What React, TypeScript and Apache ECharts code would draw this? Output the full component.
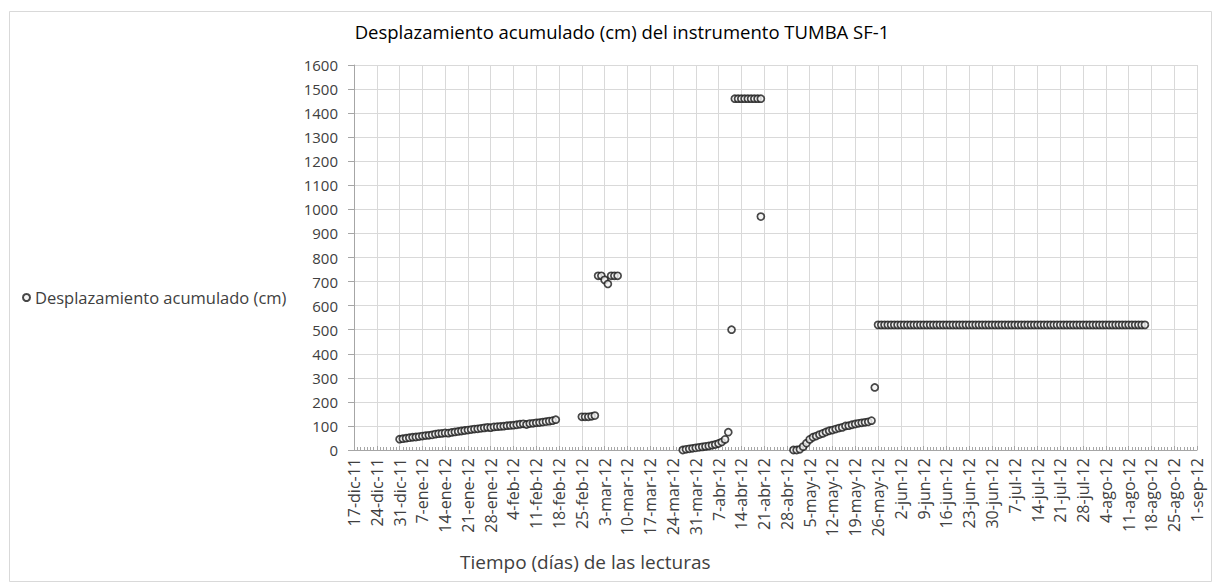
import React, { useEffect, useRef } from "react";
import * as echarts from "echarts";

// ---- Data (daily readings, each group starts at the given date) ----
const AXIS_START = "2011-12-17";
const AXIS_END = "2012-09-01";
const MONTHS_ES = ["ene", "feb", "mar", "abr", "may", "jun", "jul", "ago", "sep", "oct", "nov", "dic"];

const group1Start = "2011-12-31";
const group1Values = [45, 47, 49, 51, 53, 54, 56, 58, 60, 61, 63, 66, 68, 69, 71, 70, 73, 75, 77, 79, 81, 83, 85, 87, 88, 90, 92, 94, 93, 96, 97, 98, 99, 101, 102, 103, 105, 107, 109, 106, 110, 111, 113, 114, 116, 118, 120, 122, 126];

const group2Start = "2012-02-25";
const group2Values = [138, 138, 138, 140, 143];

const group3Start = "2012-03-01";
const group3Values = [724, 724, 707, 690, 724, 724, 724];

const group4Start = "2012-03-27";
const group4Values = [0, 3, 5, 7, 9, 11, 13, 15, 17, 20, 23, 27, 33, 44, 74];

const group5Start = "2012-04-11";
const group5Values = [500];

const group6Start = "2012-04-12";
const group6Values = [1460, 1460, 1460, 1460, 1460, 1460, 1460, 1460, 1460];

const group7Start = "2012-04-20";
const group7Values = [970];

const group8Start = "2012-04-30";
const group8Values = [0, 0, 3, 14, 28, 44, 53, 58, 64, 69, 75, 80, 83, 87, 91, 94, 100, 101, 105, 108, 111, 113, 115, 117, 122];

const group9Start = "2012-05-25";
const group9Values = [260];

const group10Start = "2012-05-26";
const group10Values = [
  520, 520, 520, 520, 520, 520, 520, 520, 520, 520,
  520, 520, 520, 520, 520, 520, 520, 520, 520, 520,
  520, 520, 520, 520, 520, 520, 520, 520, 520, 520,
  520, 520, 520, 520, 520, 520, 520, 520, 520, 520,
  520, 520, 520, 520, 520, 520, 520, 520, 520, 520,
  520, 520, 520, 520, 520, 520, 520, 520, 520, 520,
  520, 520, 520, 520, 520, 520, 520, 520, 520, 520,
  520, 520, 520, 520, 520, 520, 520, 520, 520, 520,
  520, 520, 520,
];

const groups: [string, number[]][] = [
  [group1Start, group1Values],
  [group2Start, group2Values],
  [group3Start, group3Values],
  [group4Start, group4Values],
  [group5Start, group5Values],
  [group6Start, group6Values],
  [group7Start, group7Values],
  [group8Start, group8Values],
  [group9Start, group9Values],
  [group10Start, group10Values],
];

const DAY = 86400000;
const base = Date.parse(AXIS_START + "T00:00:00Z");
const dayOf = (s: string) => Math.round((Date.parse(s + "T00:00:00Z") - base) / DAY);

const fmtDay = (v: number) => {
  const d = new Date(base + v * DAY);
  return `${d.getUTCDate()}-${MONTHS_ES[d.getUTCMonth()]}-${String(d.getUTCFullYear()).slice(2)}`;
};

const FONT = "'Open Sans', sans-serif";
const TXT = "#404040";

export default function App() {
  const ref = useRef<HTMLDivElement>(null);
  useEffect(() => {
    if (!ref.current) return;
    const chart = echarts.init(ref.current, undefined, { renderer: "svg" });
    const data: number[][] = [];
    groups.forEach(([start, vals]) => {
      const d0 = dayOf(start);
      vals.forEach((v, i) => data.push([d0 + i, v]));
    });
    chart.setOption({
      animation: false,
      backgroundColor: "#ffffff",
      textStyle: { fontFamily: FONT },
      title: {
        text: "Desplazamiento acumulado (cm) del instrumento TUMBA SF-1",
        left: 617,
        textAlign: "center",
        top: 17,
        textStyle: { fontFamily: FONT, fontSize: 18.5, fontWeight: "normal", color: "#000" },
      },
      legend: {
        left: 17,
        top: 284,
        orient: "vertical",
        itemWidth: 7,
        itemHeight: 7,
        itemGap: 4,
        textStyle: { fontFamily: FONT, fontSize: 16.5, color: TXT },
        data: [{ name: "Desplazamiento acumulado (cm)", icon: "circle" }],
      },
      grid: { left: 354, right: 19, top: 65, bottom: 132, containLabel: false },
      xAxis: {
        type: "value",
        min: 0,
        max: dayOf(AXIS_END),
        interval: 7,
        axisLine: { show: true, onZero: false, lineStyle: { color: "#a6a6a6" } },
        axisTick: { show: true, inside: true, length: 4, lineStyle: { color: "#a6a6a6" } },
        minorTick: { show: true, splitNumber: 7, length: 3, lineStyle: { color: "#a6a6a6" } },
        splitLine: { show: true, lineStyle: { color: "#d9d9d9", width: 1 } },
        axisLabel: {
          rotate: 90,
          margin: 8,
          fontFamily: FONT,
          fontSize: 16,
          color: TXT,
          formatter: (v: number) => fmtDay(v),
        },
      },
      yAxis: {
        type: "value",
        min: 0,
        max: 1600,
        interval: 100,
        axisLine: { show: true, lineStyle: { color: "#a6a6a6" } },
        axisTick: { show: true, length: 6, lineStyle: { color: "#a6a6a6" } },
        splitLine: { show: true, lineStyle: { color: "#d9d9d9", width: 1 } },
        axisLabel: {
          fontFamily: FONT,
          fontSize: 15,
          color: TXT,
          margin: 16,
          formatter: (v: number) => String(v),
        },
      },
      graphic: [
        {
          type: "rect",
          left: 7,
          top: 9,
          shape: { width: 1202, height: 570 },
          style: { fill: "none", stroke: "#d9d9d9", lineWidth: 1 },
          silent: true,
          z: -10,
        },
        {
          type: "text",
          left: 460,
          top: 552,
          style: { text: "Tiempo (días) de las lecturas", fontFamily: FONT, fontSize: 19, fill: TXT },
        },
      ],
      series: [
        {
          name: "Desplazamiento acumulado (cm)",
          type: "scatter",
          symbol: "circle",
          symbolSize: 7,
          data,
          itemStyle: { color: "#f2f2f2", borderColor: "#1a1a1a", borderWidth: 1.7 },
        },
      ],
    });
    return () => chart.dispose();
  }, []);
  return (
    <div
      ref={ref}
      style={{ position: "fixed", left: 0, top: 0, width: 1216, height: 582, background: "#fff" }}
    />
  );
}
